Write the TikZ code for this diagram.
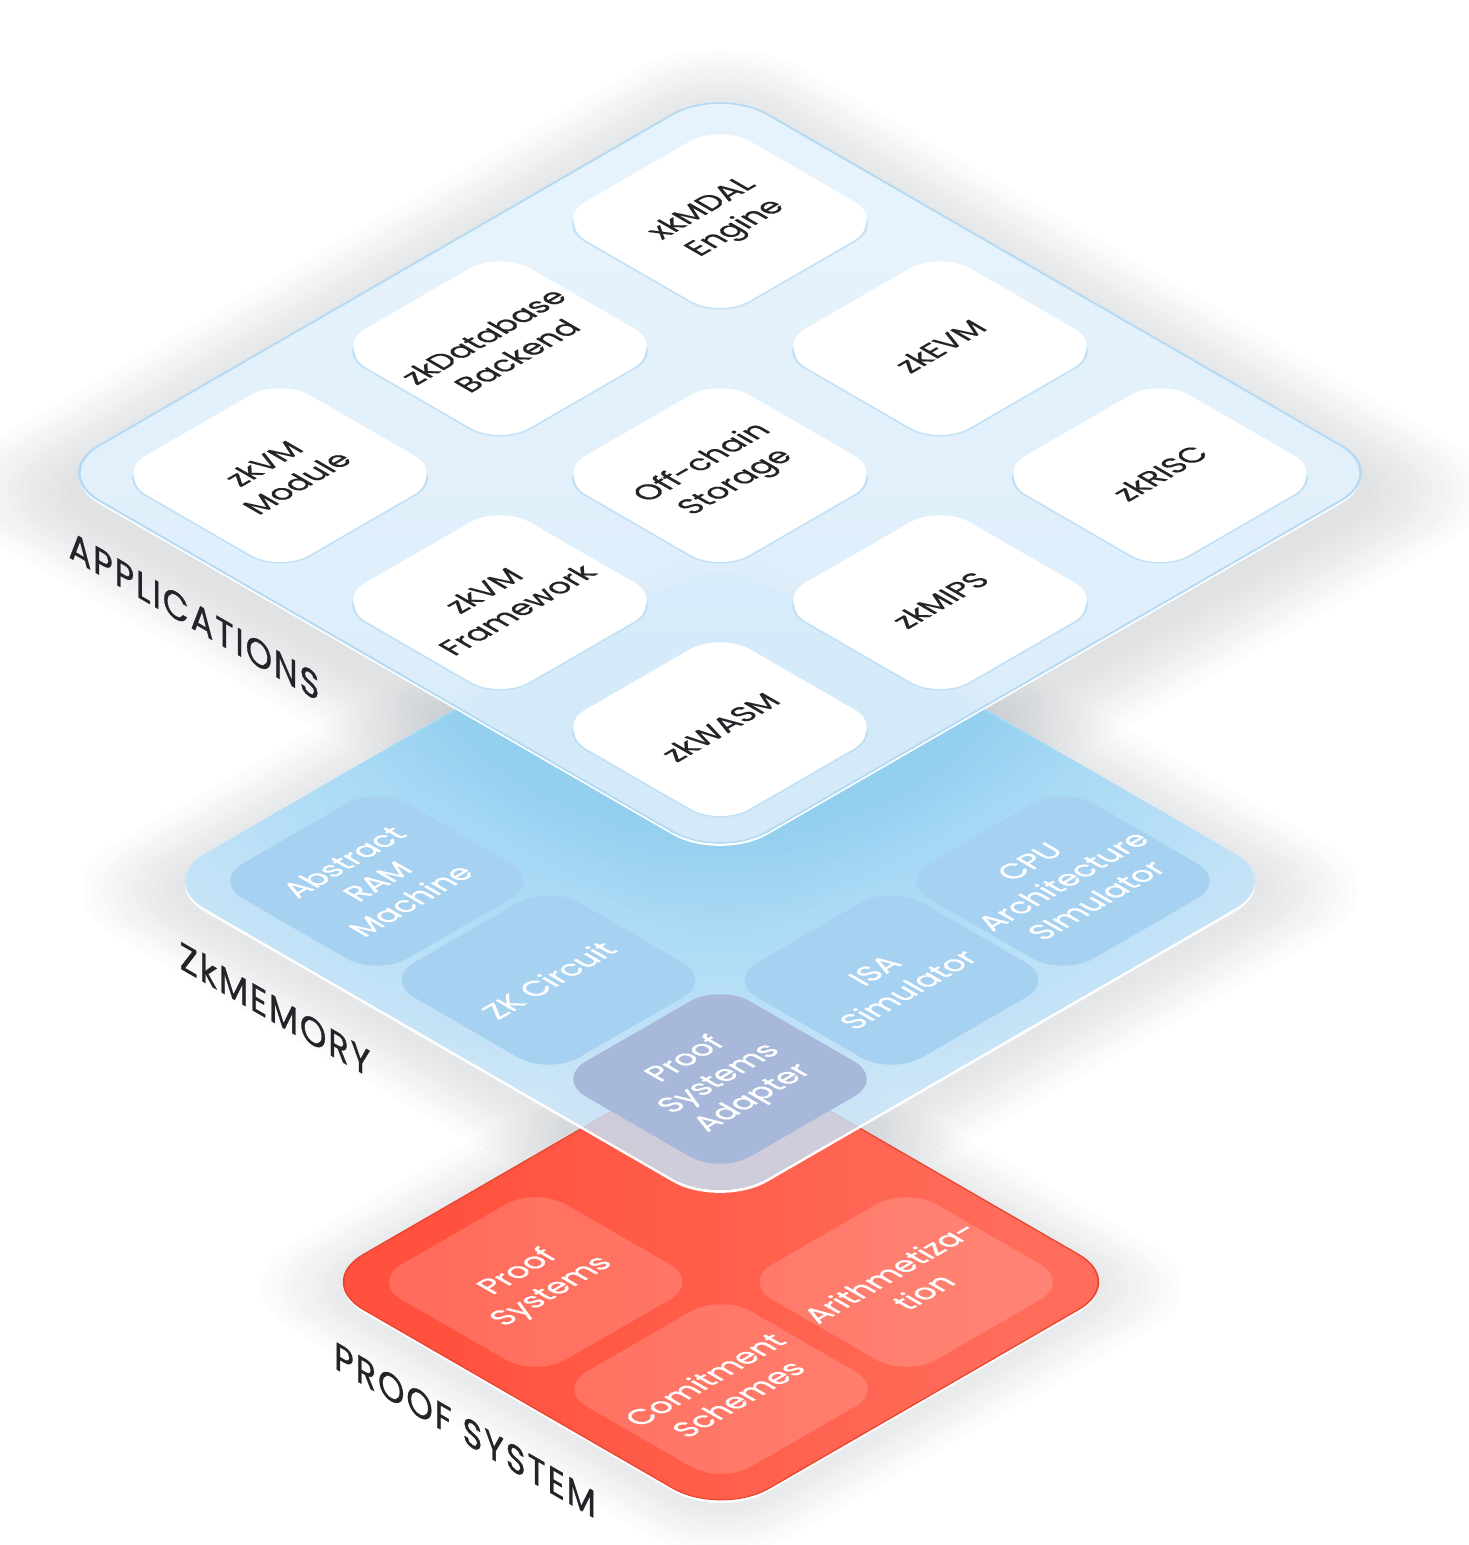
\documentclass[tikz,border=0pt]{standalone}
\usepackage{fontspec}
\setmainfont{Poppins}
\usetikzlibrary{positioning}

\definecolor{appfill}{HTML}{D9ECFA}
\definecolor{appfilltop}{HTML}{E5F2FC}
\definecolor{appedge}{HTML}{B3DAF4}
\definecolor{tileedge}{HTML}{BFE0F6}
\definecolor{memfill}{HTML}{C6E2F7}
\definecolor{memglow}{HTML}{84CCF2}
\definecolor{memtile}{HTML}{A7D1F1}
\definecolor{adaptertile}{HTML}{A7B8DA}
\definecolor{prooffill}{HTML}{FF513D}
\definecolor{prooflight}{HTML}{FF6C5A}
\definecolor{proofedge}{HTML}{E9432F}
\definecolor{labeltext}{HTML}{222428}
\definecolor{shadowc}{HTML}{4A5563}

\pgfdeclareradialshading{memshade}{\pgfpoint{19bp}{19bp}}{%
  color(0bp)=(memglow); color(16bp)=(memglow); color(42bp)=(memfill); color(100bp)=(memfill)}

\tikzset{
  iso/.style={transform canvas={cm={0.866,0.5,-0.866,0.5,(#1)}}},
  apptile/.style={fill=white, rounded corners=0.35cm},
  memtile/.style={fill=memtile, rounded corners=0.35cm},
  prooftile/.style={fill=white, fill opacity=0.16, rounded corners=0.35cm},
  apptext/.style={text=labeltext, align=center, inner sep=0pt,
    font=\fontsize{8.5}{11}\selectfont\addfontfeatures{FakeBold=0.6}},
  memtext/.style={text=white, align=center, inner sep=0pt,
    font=\fontsize{8.5}{11}\selectfont\addfontfeatures{FakeBold=0.6}},
  layerlabel/.style={text=labeltext, inner sep=0pt, cm={0.866,-0.5,0,1,(0,0)},
    font=\fontsize{11}{13}\selectfont\addfontfeatures{LetterSpace=6,FakeBold=0.9}},
}

% soft shadow round a layer: half side, corner radius, rings, drop
\newcommand{\layerglow}[4]{%
  \begin{scope}[even odd rule]
    \clip (-3000,-3000) rectangle (3000,3000)
      [rounded corners=#2cm] (-#1,-#1) rectangle (#1,#1);
    \foreach \e in {1,...,#3}
      \fill[shadowc, fill opacity=0.016, rounded corners=#2cm+\e*0.035cm]
        ({-#1-7*\e-#4},{-#1-7*\e-#4}) rectangle ({#1+7*\e-#4},{#1+7*\e-#4});
  \end{scope}
}
% white rim below the lower edges
\newcommand{\layerrim}[2]{%
  \fill[white, even odd rule, rounded corners=#2cm]
    ({-#1-3},{-#1-3}) rectangle ({#1-3},{#1-3}) (-#1,-#1) rectangle (#1,#1);
}

\begin{document}
\begin{tikzpicture}[x=0.01cm, y=0.01cm]
\useasboundingbox (0,0) rectangle (1468,1545);

% shadows first
\begin{scope}[iso={720,664}]
  \layerglow{325}{0.55}{10}{9}
\end{scope}

% proof system
\begin{scope}[iso={721,263}]
  \layerglow{234}{0.55}{8}{5}
  \layerrim{234}{0.55}
  \shade[top color=prooflight, bottom color=prooffill, shading angle=-135, rounded corners=0.55cm]
    (-234,-234) rectangle (234,234);
  \draw[proofedge, line width=0.4pt, rounded corners=0.55cm] (-234,-234) rectangle (234,234);
  \foreach \u/\v in {-107/107, 107/-107, -107/-107}
    \fill[prooftile] (\u-95,\v-95) rectangle (\u+95,\v+95);
  \node[memtext] (proofsys) at (-107,107) {Proof\\Systems};
  \node[memtext] (arith) at (107,-107) {Arithmetiza-\\tion};
  \node[memtext] (commit) at (-107,-107) {Comitment\\Schemes};
\end{scope}

\begin{scope}[iso={720,1072}]
  \layerglow{386}{0.55}{12}{18}
\end{scope}

% zkmemory
\begin{scope}[iso={720,664}]
  \layerrim{325}{0.55}
  \shade[shading=memshade, fill opacity=0.84, rounded corners=0.55cm] (-325,-325) rectangle (325,325);
  \foreach \u/\v in {-198/198, -198/0, 0/-198, 198/-198}
    \fill[memtile] (\u-95,\v-95) rectangle (\u+95,\v+95);
  \fill[memtile, fill=adaptertile] (-293,-293) rectangle (-103,-103);
  \node[memtext] (ram) at (-198,198) {Abstract\\RAM\\Machine};
  \node[memtext] (circuit) at (-198,0) {ZK Circuit};
  \node[memtext] (adapter) at (-198,-198) {Proof\\Systems\\Adapter};
  \node[memtext] (isa) at (0,-198) {ISA\\Simulator};
  \node[memtext] (cpu) at (198,-198) {CPU\\Architecture\\SImulator};
\end{scope}

% applications
\begin{scope}[iso={720,1072}]
  \layerrim{386}{0.55}
  \shade[top color=appfilltop, bottom color=appfill, shading angle=-45, fill opacity=0.94,
    rounded corners=0.55cm] (-386,-386) rectangle (386,386);
  \draw[appedge, line width=0.6pt, rounded corners=0.55cm] (-386,-386) rectangle (386,386);
  \foreach \u/\v in {254/254, 0/254, 254/0, -254/254, 0/0, 254/-254, -254/0, 0/-254, -254/-254} {
    \draw[tileedge, fill=white, line width=0.5pt, rounded corners=0.35cm] (\u-100,\v-100) rectangle (\u+90,\v+90);
    \fill[apptile] (\u-95,\v-95) rectangle (\u+95,\v+95);
  }
  \node[apptext] (mdal) at (254,254) {xkMDAL\\Engine};
  \node[apptext] (zkdb) at (0,254) {zkDatabase\\Backend};
  \node[apptext] (zkevm) at (254,0) {zkEVM};
  \node[apptext] (vmmod) at (-254,254) {zkVM\\Module};
  \node[apptext] (offchain) at (0,0) {Off-chain\\Storage};
  \node[apptext] (zkrisc) at (254,-254) {zkRISC};
  \node[apptext] (vmframe) at (-254,0) {zkVM\\Framework};
  \node[apptext] (zkmips) at (0,-254) {zkMIPS};
  \node[apptext] (zkwasm) at (-254,-254) {zkWASM};
\end{scope}

\node[layerlabel] (applabel) at (194,929) {APPLICATIONS};
\node[layerlabel] (memlabel) at (275,536) {ZkMEMORY};
\node[layerlabel] (prooflabel) at (465,115) {PROOF SYSTEM};

\end{tikzpicture}
\end{document}
